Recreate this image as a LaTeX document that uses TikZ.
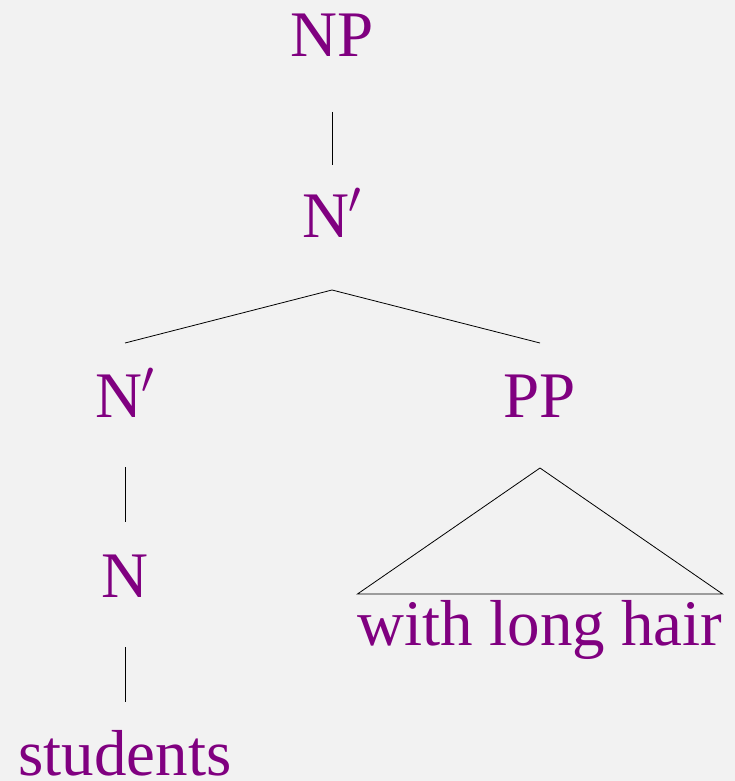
\RequirePackage{fix-cm}
\documentclass[tikz,border=0pt]{standalone}
\usepackage{fontspec}
\setmainfont{Liberation Serif}
\definecolor{labelpurple}{HTML}{800080}
\definecolor{paper}{HTML}{F2F2F2}
\begin{document}
\begin{tikzpicture}[x=1pt,y=-1pt,
  cat/.style={anchor=base,inner sep=0pt,text=labelpurple,
    font=\fontsize{65}{78}\selectfont},
  edge/.style={draw=black,line width=0.8pt}]
  % canvas
  \fill[paper] (0,0) rectangle (735,781);
  \useasboundingbox (0,0) rectangle (735,781);

  % category labels and words
  \node[cat] (np)    at (332,57)  {NP};
  \node[cat] (nbar)  at (332,237) {N$'$};
  \node[cat] (nbarl) at (125,417) {N$'$};
  \node[cat] (pp)    at (540,417) {PP};
  \node[cat] (n)     at (125,597) {N};
  \node[cat] (stud)  at (125,775) {students};
  \node[cat] (hair)  at (540,645) {with long hair};

  % branches (canvas shifts: negative goes down)
  \draw[edge] ([yshift=-55pt]np.base)    -- ([yshift=72pt]nbar.base);
  \draw[edge] ([yshift=74pt]nbarl.base) -- ([yshift=-53pt]nbar.base)
              -- ([yshift=74pt]pp.base);
  \draw[edge] ([yshift=-50pt]nbarl.base) -- ([yshift=75pt]n.base);
  \draw[edge] ([yshift=-50pt]n.base)     -- ([yshift=73pt]stud.base);

  % triangle over the unanalysed phrase
  \draw[edge,line join=miter] ([yshift=-51pt]pp.base)
      -- ([yshift=51pt]hair.base west)
      -- ([yshift=51pt]hair.base east) -- cycle;
\end{tikzpicture}
\end{document}
